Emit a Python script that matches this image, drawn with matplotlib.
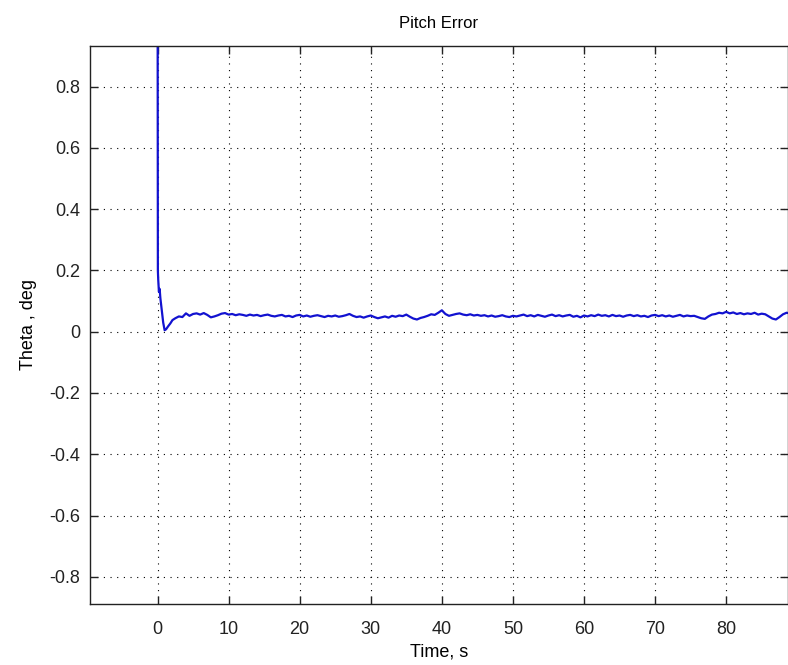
import numpy as np
import matplotlib
matplotlib.use("Agg")
import matplotlib.pyplot as plt

plt.rcParams['font.family'] = ['Liberation Sans', 'DejaVu Sans']

# --- Data ---
# transient right after t = 0
t_start = [0.0, 0.05, 0.1, 0.2, 0.3, 0.4, 0.5, 0.6, 0.8, 1.0, 1.2, 1.5, 1.8,
           2.1, 2.5, 3.0, 3.5, 4.0, 4.5, 5.0]
theta_start = [1.5, 0.20, 0.17, 0.13, 0.14, 0.11, 0.09, 0.07, 0.03, 0.005,
               0.008, 0.018, 0.027, 0.038, 0.044, 0.050, 0.048, 0.060, 0.052, 0.058]

# settled part, one sample every 0.5 s from 5.5 s
tail_t0 = 5.5
tail_dt = 0.5
theta_tail = [
    0.060, 0.056, 0.061, 0.055, 0.047, 0.050, 0.054, 0.059, 0.061, 0.056,
    0.058, 0.054, 0.057, 0.055, 0.052, 0.056, 0.053, 0.055, 0.051, 0.054,
    0.056, 0.052, 0.050, 0.053, 0.055, 0.050, 0.052, 0.048, 0.053, 0.055,
    0.050, 0.053, 0.049, 0.052, 0.054, 0.051, 0.048, 0.052, 0.050, 0.053,
    0.049, 0.051, 0.054, 0.058, 0.052, 0.048, 0.050, 0.046, 0.050, 0.053,
    0.048, 0.044, 0.047, 0.050, 0.046, 0.052, 0.049, 0.053, 0.051, 0.056,
    0.049, 0.043, 0.040, 0.045, 0.048, 0.052, 0.057, 0.055, 0.062, 0.070,
    0.058, 0.052, 0.055, 0.058, 0.060, 0.056, 0.054, 0.057, 0.053, 0.055,
    0.052, 0.054, 0.050, 0.053, 0.049, 0.051, 0.054, 0.050, 0.048, 0.052,
    0.050, 0.053, 0.056, 0.051, 0.054, 0.050, 0.055, 0.052, 0.049, 0.053,
    0.056, 0.051, 0.054, 0.050, 0.053, 0.055, 0.049, 0.052, 0.047, 0.053,
    0.050, 0.054, 0.051, 0.056, 0.052, 0.054, 0.050, 0.055, 0.051, 0.053,
    0.049, 0.053, 0.055, 0.051, 0.054, 0.050, 0.052, 0.048, 0.053, 0.055,
    0.051, 0.054, 0.050, 0.053, 0.049, 0.052, 0.055, 0.050, 0.053, 0.051,
    0.052, 0.048, 0.044, 0.042, 0.050, 0.056, 0.058, 0.062, 0.060, 0.065,
    0.060, 0.063, 0.058, 0.061, 0.057, 0.060, 0.058, 0.062, 0.056, 0.059,
    0.057, 0.050, 0.043, 0.040, 0.048, 0.057, 0.062, 0.060,
]

x_ticks = [0, 10, 20, 30, 40, 50, 60, 70, 80]
y_ticks = [-0.8, -0.6, -0.4, -0.2, 0, 0.2, 0.4, 0.6, 0.8]
y_tick_labels = ['-0.8', '-0.6', '-0.4', '-0.2', '0', '0.2', '0.4', '0.6', '0.8']

t_tail = tail_t0 + tail_dt * np.arange(len(theta_tail))
t = np.concatenate([t_start, t_tail])
theta = np.concatenate([theta_start, theta_tail])

# --- Plot ---
fig = plt.figure(figsize=(7.88, 6.65), dpi=100)
ax = fig.add_axes([0.1142, 0.0917, 0.8858, 0.8396])

ax.plot(t, theta, color='#1212d0', lw=1.6)

ax.set_xlim(-9.5, 88.7)
ax.set_ylim(-0.889, 0.934)
ax.set_xticks(x_ticks)
ax.set_yticks(y_ticks)
ax.set_yticklabels(y_tick_labels)

ax.grid(True, color='black', linestyle=(0, (1, 5)), lw=0.8)
ax.tick_params(direction='in', length=6, width=1, labelsize=13,
               top=True, right=True, colors='#222222')
ax.tick_params(axis='x', pad=12)
ax.tick_params(axis='y', pad=7)
for s in ax.spines.values():
    s.set_color('#222222')
    s.set_linewidth(1.0)

ax.set_title('Pitch Error', fontsize=12, pad=13)
ax.set_xlabel('Time, s', fontsize=13, labelpad=4)
ax.set_ylabel('Theta , deg', fontsize=13, labelpad=9)

fig.savefig('out.png', dpi=100)
